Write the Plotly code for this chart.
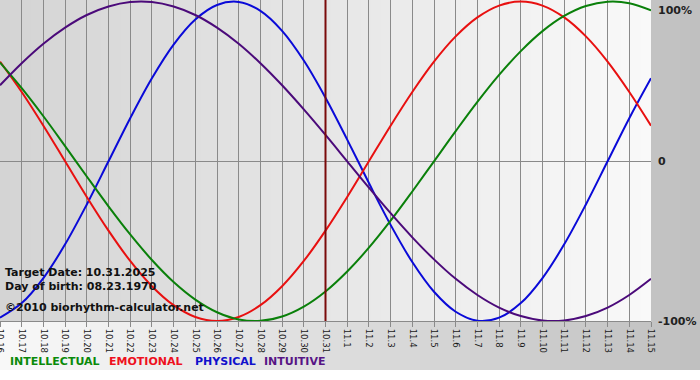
import plotly.graph_objects as go

# ---------------- data ----------------
dates = ["10.16", "10.17", "10.18", "10.19", "10.20", "10.21", "10.22", "10.23",
         "10.24", "10.25", "10.26", "10.27", "10.28", "10.29", "10.30", "10.31",
         "11.1", "11.2", "11.3", "11.4", "11.5", "11.6", "11.7", "11.8", "11.9",
         "11.10", "11.11", "11.12", "11.13", "11.14", "11.15"]

physical = [-0.979, -0.888, -0.731, -0.520, -0.270, 0.000, 0.270, 0.520, 0.731,
            0.888, 0.979, 0.998, 0.942, 0.817, 0.631, 0.398, 0.136, -0.136,
            -0.398, -0.631, -0.817, -0.942, -0.998, -0.979, -0.888, -0.731,
            -0.520, -0.270, 0.000, 0.270, 0.520]

emotional = [0.624, 0.434, 0.223, 0.000, -0.223, -0.434, -0.624, -0.782, -0.901,
             -0.975, -1.000, -0.975, -0.901, -0.782, -0.624, -0.434, -0.223,
             0.000, 0.223, 0.434, 0.624, 0.782, 0.901, 0.975, 1.000, 0.975,
             0.901, 0.782, 0.624, 0.434, 0.223]

intellectual = [0.618, 0.458, 0.282, 0.095, -0.095, -0.282, -0.458, -0.618,
                -0.756, -0.866, -0.945, -0.990, -0.999, -0.972, -0.910, -0.815,
                -0.690, -0.541, -0.372, -0.189, 0.000, 0.189, 0.372, 0.541,
                0.690, 0.815, 0.910, 0.972, 0.999, 0.990, 0.945]

intuitive = [0.476, 0.614, 0.736, 0.837, 0.916, 0.969, 0.997, 0.997, 0.969,
             0.916, 0.837, 0.736, 0.614, 0.476, 0.325, 0.165, 0.000, -0.165,
             -0.325, -0.476, -0.614, -0.736, -0.837, -0.916, -0.969, -0.997,
             -0.997, -0.969, -0.916, -0.837, -0.736]

target_date = "10.31"
info_lines = ["Target Date: 10.31.2025", "Day of birth: 08.23.1970",
              "\u00a92010 biorhythm-calculator.net"]
legend_names = ["INTELLECTUAL", "EMOTIONAL", "PHYSICAL", "INTUITIVE"]
right_labels = ["100%", "0", "-100%"]
right_values = [1, 0, -1]

# ---------------- styles ----------------
W, H = 700, 380
PLOT_R = 651      # px right edge of plot
PLOT_B = 321      # px bottom edge of plot
col_phys = "#0a0ad8"
col_emo = "#e81010"
col_int = "#0a800a"
col_intu = "#4b0a7a"
legend_cols = ["#0a8a0a", "#ee1020", "#1010cc", "#571585"]
legend_x = [8, 107, 193, 262]

x = list(range(len(dates)))

fig = go.Figure()

series = [(physical, col_phys, "PHYSICAL"), (emotional, col_emo, "EMOTIONAL"),
          (intellectual, col_int, "INTELLECTUAL"), (intuitive, col_intu, "INTUITIVE")]
for vals, c, name in series:
    fig.add_trace(go.Scatter(x=x, y=vals, mode="lines", name=name,
                             line=dict(color=c, width=2, shape="spline", smoothing=1.0),
                             hoverinfo="skip", showlegend=False))

shapes = []

def lerp(a, b, t):
    return int(round(a + (b - a) * t))

# outer gradient (white -> gray) behind everything
N = 70
for i in range(N):
    t = i / (N - 1)
    v = lerp(248, 192, t)
    x0 = i / N
    x1 = min(1.0, (i + 1.6) / N)
    shapes.append(dict(type="rect", xref="paper", yref="paper", x0=x0, x1=x1,
                       y0=10 / H, y1=1, fillcolor=f"rgb({v},{v},{v})",
                       line=dict(width=0), layer="below"))
# plot-area gradient (gray -> white)
N2 = 65
for i in range(N2):
    t = i / (N2 - 1)
    v = lerp(212, 249, t)
    x0 = (PLOT_R / W) * i / N2
    x1 = (PLOT_R / W) * min(1.0, (i + 1.6) / N2)
    shapes.append(dict(type="rect", xref="paper", yref="paper", x0=x0, x1=x1,
                       y0=(H - PLOT_B) / H, y1=1, fillcolor=f"rgb({v},{v},{v})",
                       line=dict(width=0), layer="below"))

# target date line
ti = dates.index(target_date)
shapes.append(dict(type="line", xref="x", yref="y domain", x0=ti, x1=ti, y0=0, y1=1,
                   line=dict(color="#7a0a0a", width=2), layer="above"))

annotations = []
info_y = [272, 286, 307]
for txt, yy in zip(info_lines, info_y):
    annotations.append(dict(text=f"<b>{txt}</b>", xref="paper", yref="paper",
                            x=3 / W, y=(H - yy) / H, xanchor="left", yanchor="middle",
                            showarrow=False,
                            font=dict(family="DejaVu Sans", size=11, color="#111111")))
for name, c, lx in zip(legend_names, legend_cols, legend_x):
    annotations.append(dict(text=f"<b>{name}</b>", xref="paper", yref="paper",
                            x=lx / W, y=(H - 361) / H, xanchor="left", yanchor="middle",
                            showarrow=False,
                            font=dict(family="DejaVu Sans", size=11, color=c)))
for lab, v in zip(right_labels, right_values):
    annotations.append(dict(text=f"<b>{lab}</b>", xref="paper", yref="y",
                            x=656 / W, y=v, xanchor="left",
                            yanchor="top" if v == 1 else "middle",
                            showarrow=False,
                            font=dict(family="DejaVu Sans", size=11, color="#222222")))

fig.update_layout(
    width=W, height=H,
    margin=dict(l=0, r=0, t=0, b=0, pad=0, autoexpand=False),
    paper_bgcolor="white",
    plot_bgcolor="rgba(0,0,0,0)",
    shapes=shapes,
    annotations=annotations,
    showlegend=False,
    xaxis=dict(domain=[0, PLOT_R / W], range=[0, len(dates) - 1],
               tickmode="array", tickvals=x, ticktext=dates, tickangle=90,
               tickfont=dict(family="DejaVu Sans", size=8.5, color="#1a1a1a"),
               ticklabeloverflow="allow",
               showgrid=True, gridcolor="#8a8a8a", gridwidth=1,
               ticks="outside", ticklen=5, tickcolor="#8a8a8a", tickwidth=1,
               showline=True, linecolor="#8a8a8a", linewidth=1,
               zeroline=False, fixedrange=True, automargin=False),
    yaxis=dict(domain=[(H - PLOT_B) / H, 1], range=[-1.0, 1.01],
               showgrid=False, showticklabels=False, ticks="",
               zeroline=True, zerolinecolor="#8a8a8a", zerolinewidth=1,
               showline=False, fixedrange=True, automargin=False),
)

fig.write_html("out.html", config={"displayModeBar": False},
               post_script="document.body.style.margin='0px';document.body.style.overflow='hidden';")
